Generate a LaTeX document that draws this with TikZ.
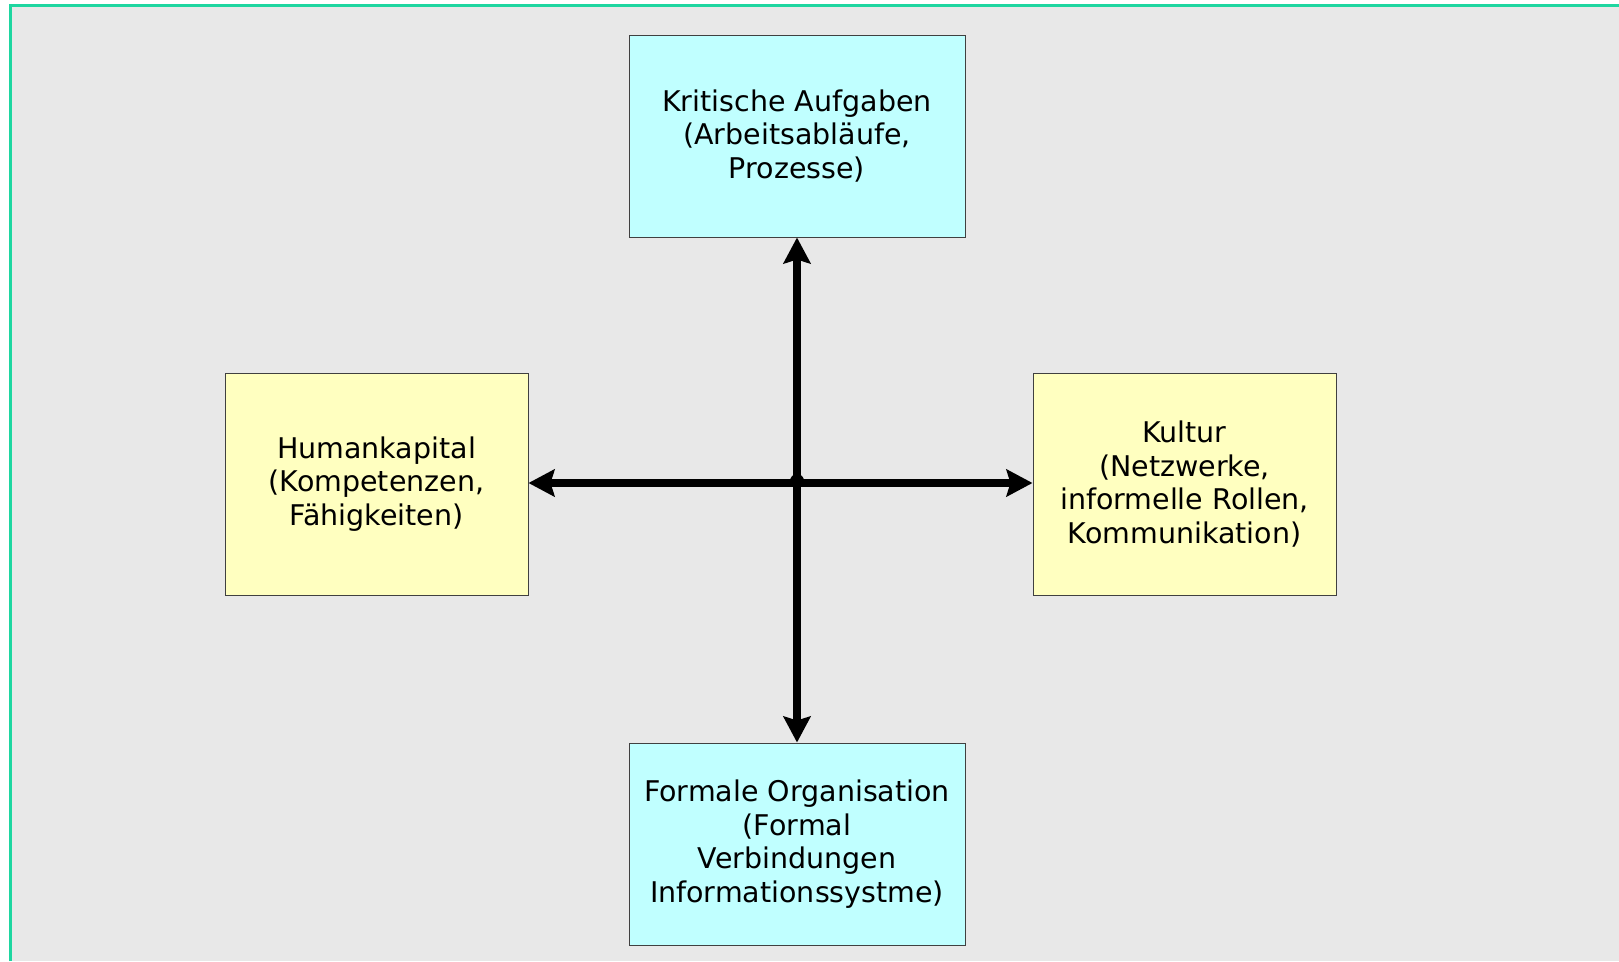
\documentclass[tikz,border=0pt]{standalone}
\usepackage{fontspec}
\setmainfont{DejaVu Sans}
\usetikzlibrary{arrows.meta, positioning, calc}
\definecolor{rahmen}{HTML}{1ED6A0}
\definecolor{grund}{HTML}{E8E8E8}
\definecolor{cyanbox}{HTML}{C0FFFF}
\definecolor{gelbbox}{HTML}{FFFFC0}
\definecolor{kante}{HTML}{404040}

\begin{document}
\begin{tikzpicture}[
    x=1pt, y=-1pt,
    every node/.style={font=\fontsize{28.5}{33.5}\selectfont},
    achse/.style={rectangle, draw=kante, line width=1pt, fill=cyanbox,
                  minimum width=336pt, minimum height=202pt, align=center},
    seite/.style={rectangle, draw=kante, line width=1pt, fill=gelbbox,
                  minimum width=303pt, minimum height=222pt, align=center},
    arr/.style={-{Stealth[length=26pt, width=27pt, inset=4pt]}, line width=7.5pt}
]
    \useasboundingbox (0,0) rectangle (1619,961);
    \fill[grund] (10,5) rectangle (1619,961);
    \draw[rahmen, line width=3pt] (10,961) -- (10,5) -- (1619,5);

    \node[achse] (aufgaben) at (797, 136) {Kritische Aufgaben\\(Arbeitsabläufe,\\Prozesse)};
    \node[seite] (human)    at (376.5, 484) {Humankapital\\(Kompetenzen,\\Fähigkeiten)};
    \node[seite] (kultur)   at (1184.5, 484) {Kultur\\(Netzwerke,\\informelle Rollen,\\Kommunikation)};
    \node[achse] (formal)   at (797, 844) {Formale Organisation\\(Formal\\Verbindungen\\Informationssystme)};
    \coordinate (mitte) at (797, 483);

    \draw[arr] (mitte) -- (aufgaben.south);
    \draw[arr] (mitte) -- (formal.north);
    \draw[arr] (mitte) -- (mitte -| human.east);
    \draw[arr] (mitte) -- (mitte -| kultur.west);
    \fill (797, 481) circle (7pt);
\end{tikzpicture}
\end{document}
